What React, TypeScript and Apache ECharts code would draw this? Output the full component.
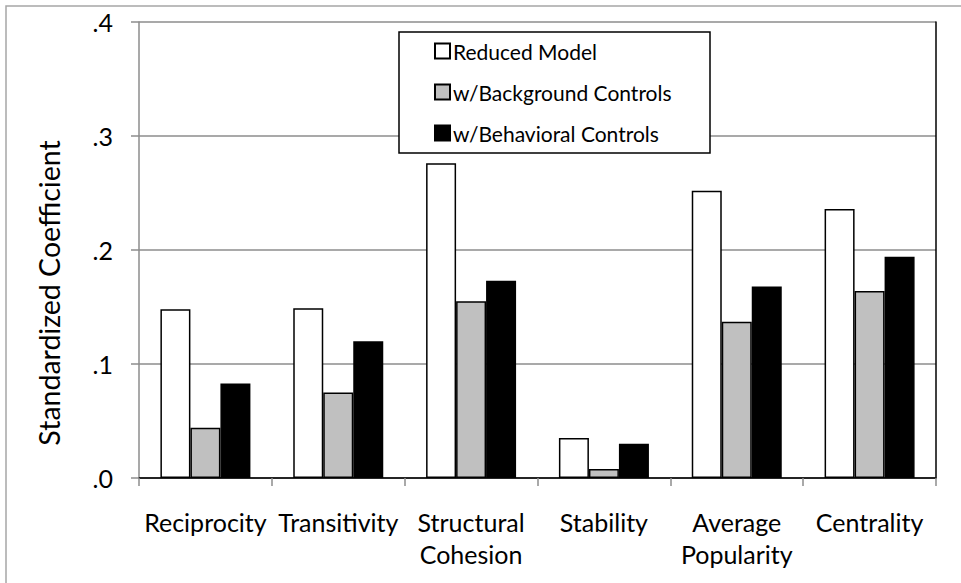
import React, { useEffect, useRef } from "react";
import * as echarts from "echarts";

const categories = ["Reciprocity", "Transitivity", "Structural\nCohesion", "Stability", "Average\nPopularity", "Centrality"];
const seriesNames = ["Reduced Model", "w/Background Controls", "w/Behavioral Controls"];
const reducedModel = [0.148, 0.149, 0.276, 0.035, 0.252, 0.236];
const backgroundControls = [0.044, 0.075, 0.155, 0.008, 0.137, 0.164];
const behavioralControls = [0.083, 0.120, 0.173, 0.030, 0.168, 0.194];
const seriesColors = ["#ffffff", "#c0c0c0", "#000000"];
const yTicks = [0, 0.1, 0.2, 0.3, 0.4];

const FONT = "Lato";

export default function App() {
  const ref = useRef<HTMLDivElement>(null);
  useEffect(() => {
    if (!ref.current) return;
    const chart = echarts.init(ref.current, null, { renderer: "svg" });
    const values = [reducedModel, backgroundControls, behavioralControls];
    const option = {
      animation: false,
      backgroundColor: "#ffffff",
      textStyle: { fontFamily: FONT },
      grid: { left: 139, right: 25, top: 22, bottom: 105, containLabel: false },
      legend: {
        orient: "vertical",
        left: 429,
        top: 35,
        itemWidth: 15,
        itemHeight: 15,
        itemGap: 19,
        icon: "rect",
        z: 10,
        data: seriesNames,
        textStyle: { fontFamily: FONT, fontSize: 21, color: "#000", lineHeight: 22, padding: [0, 0, 0, -2] },
      },
      xAxis: [
        {
          type: "category",
          data: categories,
          axisLine: { show: true, lineStyle: { color: "#8c8c8c", width: 1.5 } },
          axisTick: { show: true, length: 8, inside: false, alignWithLabel: false, lineStyle: { color: "#8c8c8c", width: 1.5 } },
          axisLabel: { fontFamily: FONT, fontSize: 25, color: "#000", margin: 28, lineHeight: 32, interval: 0 },
          splitLine: { show: false },
        },
        {
          type: "category",
          position: "top",
          data: categories,
          axisLine: { show: true, lineStyle: { color: "#000", width: 1.5 } },
          axisTick: { show: false },
          axisLabel: { show: false },
          splitLine: { show: false },
        },
      ],
      yAxis: [
        {
          type: "value",
          min: 0,
          max: 0.4,
          interval: 0.1,
          axisLine: { show: true, lineStyle: { color: "#8c8c8c", width: 1.5 } },
          axisTick: { show: true, length: 8, lineStyle: { color: "#8c8c8c", width: 1.5 } },
          axisLabel: {
            fontFamily: FONT,
            fontSize: 25,
            color: "#000",
            margin: 26,
            formatter: (v: number) => {
              const t = yTicks.find((x) => Math.abs(x - v) < 1e-9);
              return (t !== undefined ? t : v).toFixed(1).replace(/^0/, "");
            },
          },
          splitLine: { show: true, lineStyle: { color: "#8c8c8c", width: 1.5 } },
        },
        {
          type: "value",
          position: "right",
          min: 0,
          max: 0.4,
          interval: 0.1,
          axisLine: { show: true, lineStyle: { color: "#000", width: 1.5 } },
          axisTick: { show: false },
          axisLabel: { show: false },
          splitLine: { show: false },
        },
      ],
      series: seriesNames.map((name, i) => ({
        name,
        type: "bar",
        xAxisIndex: 0,
        yAxisIndex: 0,
        data: values[i],
        barWidth: 30,
        barGap: "0%",
        itemStyle: { color: seriesColors[i], borderColor: "#000", borderWidth: 1.5 },
      })),
      graphic: [
        {
          type: "rect",
          z: 5,
          shape: { x: 6, y: 6, width: 1200, height: 1200 },
          style: { fill: "none", stroke: "#a6a6a6", lineWidth: 1.5 },
          silent: true,
        },
        {
          type: "rect",
          z: 5,
          shape: { x: 399, y: 32, width: 311, height: 121 },
          style: { fill: "#ffffff", stroke: "#000", lineWidth: 1.5 },
          silent: true,
        },
        {
          type: "text",
          z: 5,
          x: 49,
          y: 293,
          rotation: Math.PI / 2,
          style: {
            text: "Standardized Coefficient",
            fontFamily: FONT,
            fontSize: 28.5,
            fill: "#000",
            align: "center",
            verticalAlign: "middle",
          },
        },
      ],
    };
    chart.setOption(option as any);
    return () => chart.dispose();
  }, []);
  return (
    <div
      ref={ref}
      style={{ position: "fixed", left: 0, top: 0, width: 961, height: 583 }}
    />
  );
}
